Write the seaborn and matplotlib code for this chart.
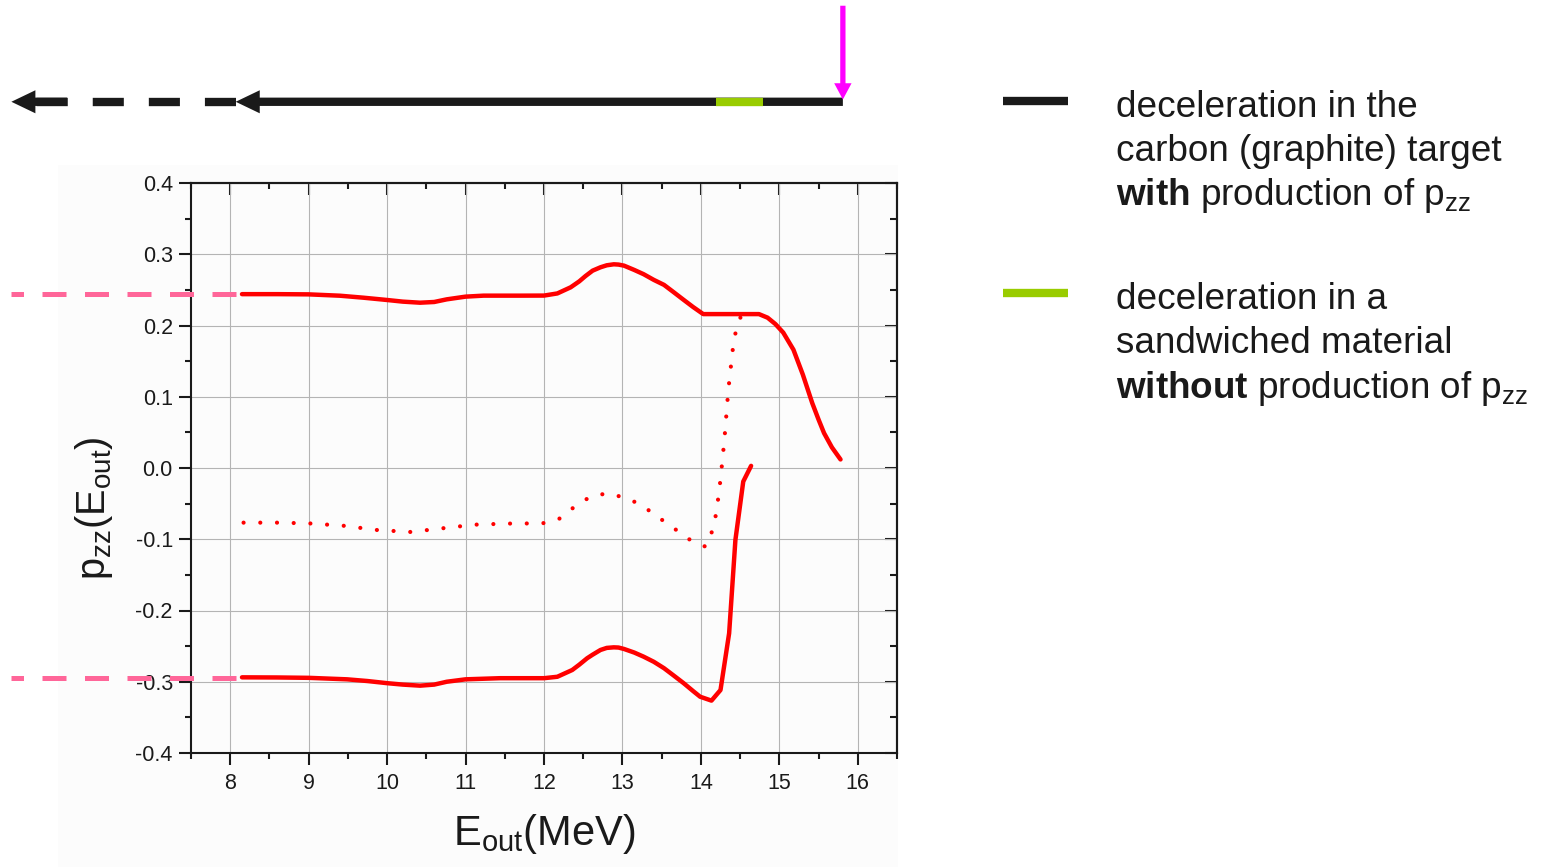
import matplotlib
matplotlib.use("Agg")
import matplotlib.pyplot as plt
import pandas as pd
import seaborn as sns
from matplotlib.ticker import MultipleLocator, FormatStrFormatter
from matplotlib.lines import Line2D
from matplotlib.patches import Rectangle

# ---------------- data ----------------
# tensor polarization p_zz versus outgoing energy, upper branch
E_upper = [8.15, 8.6, 9.0, 9.4, 9.7, 10.0, 10.2, 10.42, 10.6, 10.76, 11.0, 11.23,
           11.7, 12.0, 12.17, 12.34, 12.45, 12.53, 12.62, 12.72, 12.8, 12.89, 12.95,
           13.02, 13.15, 13.27, 13.4, 13.53, 13.65, 13.78, 13.9, 14.03, 14.4, 14.74,
           14.85, 14.95, 15.05, 15.18, 15.3, 15.42, 15.5, 15.57, 15.67, 15.78]
pzz_upper = [0.244, 0.244, 0.2437, 0.2418, 0.239, 0.2358, 0.2335, 0.232, 0.233,
             0.2367, 0.2405, 0.2419, 0.2419, 0.242, 0.245, 0.2536, 0.262, 0.2695,
             0.277, 0.2817, 0.2845, 0.2859, 0.2855, 0.284, 0.278, 0.272, 0.264,
             0.257, 0.247, 0.236, 0.226, 0.216, 0.216, 0.216, 0.211, 0.202, 0.190,
             0.166, 0.131, 0.091, 0.068, 0.049, 0.029, 0.012]

# lower branch
E_lower = [8.15, 8.6, 9.0, 9.49, 9.75, 10.0, 10.2, 10.42, 10.6, 10.76, 11.0, 11.44,
           12.0, 12.17, 12.36, 12.45, 12.55, 12.62, 12.72, 12.8, 12.89, 12.95, 13.02,
           13.15, 13.27, 13.4, 13.53, 13.65, 13.78, 13.9, 13.99, 14.135, 14.25,
           14.36, 14.44, 14.54, 14.64]
pzz_lower = [-0.2938, -0.294, -0.2945, -0.2966, -0.299, -0.302, -0.304, -0.3055,
             -0.304, -0.300, -0.2966, -0.295, -0.295, -0.293, -0.2835, -0.276,
             -0.267, -0.262, -0.2554, -0.2525, -0.2517, -0.252, -0.254, -0.259,
             -0.2648, -0.272, -0.281, -0.291, -0.302, -0.313, -0.321, -0.3265,
             -0.3116, -0.232, -0.101, -0.019, 0.003]

# dotted curve
E_dotted = [8.17, 8.6, 9.0, 9.44, 9.87, 10.3, 10.7, 11.12, 11.55, 11.98, 12.19,
            12.38, 12.59, 12.8, 13.02, 13.23, 13.43, 13.64, 13.85, 14.06, 14.15,
            14.2, 14.25, 14.3, 14.35, 14.41, 14.45, 14.52]
pzz_dotted = [-0.0767, -0.0767, -0.0777, -0.081, -0.087, -0.0898, -0.0847, -0.0795,
              -0.078, -0.0777, -0.0716, -0.0552, -0.0403, -0.0356, -0.0412, -0.051,
              -0.067, -0.0833, -0.100, -0.1105, -0.087, -0.061, -0.016, 0.040,
              0.110, 0.170, 0.195, 0.216]

# initial polarization levels
pzz_initial = [0.244, -0.295]

# beam track energies (MeV)
E_beam = 15.81
E_sandwich = [14.19, 14.79]
E_exit = 8.07
E_far = 5.21

x_ticks = [8, 9, 10, 11, 12, 13, 14, 15, 16]
y_ticks = [-0.4, -0.3, -0.2, -0.1, 0.0, 0.1, 0.2, 0.3, 0.4]

legend_carbon = ["deceleration in the",
                 "carbon (graphite) target",
                 r"$\mathbf{with}$ production of p$_{\mathrm{zz}}$"]
legend_sandwich = ["deceleration in a",
                   "sandwiched material",
                   r"$\mathbf{without}$ production of p$_{\mathrm{zz}}$"]

# ---------------- style ----------------
sns.set_theme(style="ticks")
plt.rcParams["font.family"] = ["Liberation Sans", "DejaVu Sans"]
plt.rcParams["mathtext.fontset"] = "custom"
plt.rcParams["mathtext.rm"] = "Liberation Sans"
plt.rcParams["mathtext.it"] = "Liberation Sans:italic"
plt.rcParams["mathtext.bf"] = "Liberation Sans:bold"
plt.rcParams["mathtext.default"] = "regular"
plt.rcParams["axes.unicode_minus"] = False
plt.rcParams["text.color"] = "black"

RED = "#ff0000"
PINK = "#ff6699"
GREEN = "#99cc00"
MAGENTA = "#ff00ff"

W, H = 1550, 867
fig = plt.figure(figsize=(W / 100, H / 100), dpi=100)
fig.patch.set_facecolor("white")

# light panel behind the plot
fig.add_artist(Rectangle((58 / W, 0), (898 - 58) / W, 1 - 165 / H,
                         transform=fig.transFigure, facecolor="#fcfcfc",
                         edgecolor="none", zorder=-1))

ax = fig.add_axes([191 / W, 1 - 753 / H, (897 - 191) / W, (753 - 183) / H])
ax.set_facecolor("none")

# ---------------- curves ----------------
sns.lineplot(data=pd.DataFrame({"E": E_upper, "pzz": pzz_upper}), x="E", y="pzz",
             ax=ax, color=RED, lw=3.2, sort=False, estimator=None,
             solid_joinstyle="round", zorder=4)
sns.lineplot(data=pd.DataFrame({"E": E_lower, "pzz": pzz_lower}), x="E", y="pzz",
             ax=ax, color=RED, lw=3.2, sort=False, estimator=None,
             solid_joinstyle="round", zorder=4)
sns.lineplot(data=pd.DataFrame({"E": E_dotted, "pzz": pzz_dotted}), x="E", y="pzz",
             ax=ax, color=RED, lw=3.0, sort=False, estimator=None,
             linestyle=(0, (0.01, 4.0)), dash_capstyle="round", zorder=4)

# initial levels extending left of the axes
for level in pzz_initial:
    ax.plot([E_exit, E_far], [level, level], color=PINK, lw=3.6,
            linestyle=(0, (4.8, 3.7)), clip_on=False, zorder=5)

# ---------------- axes ----------------
ax.set_xlim(7.5, 16.5)
ax.set_ylim(-0.4, 0.4)
ax.set_xticks(x_ticks)
ax.set_yticks(y_ticks)
ax.xaxis.set_minor_locator(MultipleLocator(0.5))
ax.yaxis.set_minor_locator(MultipleLocator(0.05))
ax.yaxis.set_major_formatter(FormatStrFormatter("%.1f"))
ax.tick_params(which="major", direction="out", length=8.6, width=1.5,
               labelsize=15.5, color="k", labelcolor="k")
ax.tick_params(axis="y", which="major", pad=4.5)
ax.tick_params(axis="x", which="major", pad=6)
ax.tick_params(which="minor", direction="out", length=4.3, width=1.5, color="k")
ax.grid(True, which="major", color="#b4b4b4", lw=0.8)
ax.set_axisbelow(True)
for s in ax.spines.values():
    s.set_visible(True)
    s.set_linewidth(1.5)
    s.set_color("k")

top = ax.secondary_xaxis("top")
top.set_xticks(x_ticks)
top.xaxis.set_minor_locator(MultipleLocator(0.5))
top.tick_params(which="both", direction="in", labeltop=False, width=1.5, color="k")
top.tick_params(which="major", length=8.3)
top.tick_params(which="minor", length=4.3)
top.spines["top"].set_linewidth(1.5)

right = ax.secondary_yaxis("right")
right.set_yticks(y_ticks)
right.yaxis.set_minor_locator(MultipleLocator(0.05))
right.tick_params(which="both", direction="in", labelright=False, width=1.5, color="k")
right.tick_params(which="major", length=8.6)
right.tick_params(which="minor", length=4.8)
right.spines["right"].set_linewidth(1.5)

ax.set_xlabel(r"E$_{\mathrm{out}}$(MeV)", fontsize=30, color="k")
ax.xaxis.set_label_coords(0.5, -0.103)
ax.set_ylabel(r"p$_{\mathrm{zz}}$(E$_{\mathrm{out}}$)", fontsize=28.5, color="k")
ax.yaxis.set_label_coords(-0.108, 0.43)

# ---------------- beam track above the plot ----------------
trans = ax.get_xaxis_transform()
y_track = 1.1425

ax.annotate("", xy=(E_exit, y_track), xytext=(E_beam, y_track),
            xycoords=trans, textcoords=trans, annotation_clip=False,
            arrowprops=dict(arrowstyle="simple,head_length=1.73,head_width=1.66,tail_width=0.6",
                            mutation_scale=10, color="k", lw=0,
                            shrinkA=0, shrinkB=0))
ax.plot(E_sandwich, [y_track, y_track], transform=trans, color=GREEN, lw=6,
        solid_capstyle="butt", clip_on=False, zorder=6)

# dashed continuation
head_stem = 0.71
ax.plot([E_exit, E_far + 0.31], [y_track, y_track], transform=trans, color="k",
        lw=6, linestyle=(0, (3.73, 3.0)), dash_capstyle="butt", clip_on=False)
ax.annotate("", xy=(E_far, y_track), xytext=(E_far + head_stem, y_track),
            xycoords=trans, textcoords=trans, annotation_clip=False,
            arrowprops=dict(arrowstyle="simple,head_length=1.73,head_width=1.66,tail_width=0.6",
                            mutation_scale=10, color="k", lw=0,
                            shrinkA=0, shrinkB=0))

# incoming beam marker
ax.annotate("", xy=(E_beam, 1.1465), xytext=(E_beam, 1.311),
            xycoords=trans, textcoords=trans, annotation_clip=False,
            arrowprops=dict(arrowstyle="simple,head_length=1.17,head_width=1.25,tail_width=0.38",
                            mutation_scale=10, color=MAGENTA, lw=0,
                            shrinkA=0, shrinkB=0))

# ---------------- legend ----------------
for color, y_px in [("k", 101), (GREEN, 293)]:
    fig.add_artist(Line2D([1003 / W, 1068 / W], [1 - y_px / H, 1 - y_px / H],
                          transform=fig.transFigure, color=color, lw=6,
                          solid_capstyle="butt"))

for lines, baselines in [(legend_carbon, [117, 161, 205]),
                         (legend_sandwich, [309, 353, 398])]:
    for text, y_px in zip(lines, baselines):
        fig.text(1116 / W, 1 - y_px / H, text, fontsize=26.6, color="k",
                 ha="left", va="baseline")

fig.savefig("out.png", dpi=100, facecolor="white")
